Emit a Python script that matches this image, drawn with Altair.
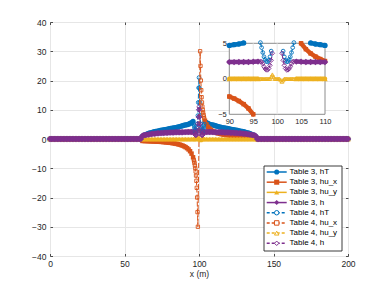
import altair as alt
import pandas as pd

# ---------------- data ----------------
VARS = ["hT", "hu_x", "hu_y", "h"]
COLORS = {"hT": "#0072BD", "hu_x": "#D95319", "hu_y": "#EDB120", "h": "#7E2F8E"}
SHAPES = {"hT": "circle", "hu_x": "square", "hu_y": "triangle-up", "h": "diamond"}

X_TICKS = [0, 50, 100, 150, 200]
Y_TICKS = [-40, -30, -20, -10, 0, 10, 20, 30, 40]
INSET_X_TICKS = [90, 95, 100, 105, 110]
INSET_Y_TICKS = [-5, 0, 5]

# Table 3 grid: x = 0..96 and x = 104..200 (m)
X3_LEFT = list(range(0, 97))
X3_RIGHT = list(range(104, 201))

# non-zero part of Table 3, left side x = 62..96 ; right side x = 104..138
HT3_LEFT_DOME = [0.9, 1.25, 1.5, 1.7, 1.9, 2.05, 2.2, 2.35, 2.5, 2.6, 2.7, 2.8, 2.9, 3.0, 3.1,
                 3.2, 3.3, 3.4, 3.5, 3.6, 3.7, 3.8, 3.9, 4.0, 4.1, 4.25, 4.4, 4.55, 4.7, 4.8,
                 4.9, 5.05, 5.3, 5.6, 6.0]
HT3_RIGHT_DOME = [6.0, 5.6, 5.3, 5.05, 4.9, 4.8, 4.7, 4.55, 4.4, 4.25, 4.1, 4.0, 3.9, 3.8, 3.7,
                  3.6, 3.5, 3.4, 3.3, 3.2, 3.1, 3.0, 2.9, 2.8, 2.7, 2.6, 2.5, 2.35, 2.2, 2.05,
                  1.9, 1.7, 1.5, 1.25, 0.9]
H3_LEFT_DOME = [1.1, 1.25, 1.35, 1.45, 1.55, 1.62, 1.7, 1.76, 1.82, 1.88, 1.93, 1.97, 2.01, 2.05,
                2.08, 2.11, 2.14, 2.17, 2.2, 2.22, 2.24, 2.26, 2.28, 2.3, 2.31, 2.32, 2.33, 2.34,
                2.35, 2.35, 2.36, 2.37, 2.38, 2.39, 2.42]
H3_RIGHT_DOME = [2.42, 2.39, 2.38, 2.37, 2.36, 2.35, 2.35, 2.34, 2.33, 2.32, 2.31, 2.3, 2.28, 2.26,
                 2.24, 2.22, 2.2, 2.17, 2.14, 2.11, 2.08, 2.05, 2.01, 1.97, 1.93, 1.88, 1.82, 1.76,
                 1.7, 1.62, 1.55, 1.45, 1.35, 1.25, 1.1]
HUX3_LEFT_DOME = [-0.66, -0.68, -0.69, -0.71, -0.74, -0.76, -0.78, -0.81, -0.83, -0.86, -0.89,
                  -0.93, -0.96, -1.0, -1.04, -1.09, -1.14, -1.19, -1.25, -1.32, -1.39, -1.47,
                  -1.56, -1.67, -1.79, -1.92, -2.08, -2.27, -2.5, -2.78, -3.13, -3.57, -4.17,
                  -5.0, -6.25]
HUX3_RIGHT_DOME = [6.25, 5.0, 4.17, 3.57, 3.13, 2.78, 2.5, 2.27, 2.08, 1.92, 1.79, 1.67, 1.56,
                   1.47, 1.39, 1.32, 1.25, 1.19, 1.14, 1.09, 1.04, 1.0, 0.96, 0.93, 0.89, 0.86,
                   0.83, 0.81, 0.78, 0.76, 0.74, 0.71, 0.69, 0.68, 0.66]
HUY3_LEFT_DOME = []
HUY3_RIGHT_DOME = []

# Table 4 grid near the centre (None = no sample there)
X4 = [96.5, 96.75, 97.0, 97.25, 97.5, 97.75, 98.0, 98.25, 98.5, 98.75, 99.0, 99.25, 99.5, 99.75,
      100.0, 100.25, 100.5, 100.75, 101.0, 101.25, 101.5, 101.75, 102.0, 102.25, 102.5, 102.75,
      103.0, 103.25, 103.5]
HT4 = [5.1, 4.4, 3.7, 3.1, 2.7, 2.45, 2.4, 2.6, 3.1, 3.9, 5.2, 8.0, 12.5, 17.5, 21.0,
       17.5, 12.5, 8.0, 5.2, 3.9, 3.1, 2.6, 2.4, 2.45, 2.7, 3.1, 3.7, 4.4, 5.1]
HUX4 = [-7.1, -7.7, -8.3, -9.1, -10.0, -11.1, -12.5, -14.3, -16.7, -20.0, -25.0, -30.0, None,
        None, None, None, None, 30.0, 25.0, 20.0, 16.7, 14.3, 12.5, 11.1, 10.0, 9.1, 8.3, 7.7, 7.1]
HUY4 = [0, 0, 0, 0, 0, 0, 0, 0, 0, 0.3, 0.6, 0.3, 0, 0, 0, 0, 0, -0.2, -0.4, -0.2,
        0, 0, 0, 0, 0, 0, 0, 0, 0]
H4 = [2.45, 2.4, 2.1, 1.7, 1.4, 1.25, 1.25, 1.45, 1.9, 2.6, 3.6, 5.2, 7.5, 10.0, 11.0,
      10.0, 7.5, 5.2, 3.6, 2.6, 1.9, 1.45, 1.25, 1.25, 1.4, 1.7, 2.1, 2.4, 2.45]

LEGEND_LABELS = ["Table 3, hT", "Table 3, hu_x", "Table 3, hu_y", "Table 3, h",
                 "Table 4, hT", "Table 4, hu_x", "Table 4, hu_y", "Table 4, h"]

# ---------------- build tables ----------------
def pad_left(dome, n):
    return [0.0] * (n - len(dome)) + list(dome)


def pad_right(dome, n):
    return list(dome) + [0.0] * (n - len(dome))


T3 = {
    "hT": (HT3_LEFT_DOME, HT3_RIGHT_DOME),
    "hu_x": (HUX3_LEFT_DOME, HUX3_RIGHT_DOME),
    "hu_y": (HUY3_LEFT_DOME, HUY3_RIGHT_DOME),
    "h": (H3_LEFT_DOME, H3_RIGHT_DOME),
}
T4 = {"hT": HT4, "hu_x": HUX4, "hu_y": HUY4, "h": H4}

rows = []
for var in VARS:
    left, right = T3[var]
    for x, v in zip(X3_LEFT, pad_left(left, len(X3_LEFT))):
        rows.append({"table": "3", "var": var, "x": x, "v": v, "side": "L"})
    for x, v in zip(X3_RIGHT, pad_right(right, len(X3_RIGHT))):
        rows.append({"table": "3", "var": var, "x": x, "v": v, "side": "R"})
    for x, v in zip(X4, T4[var]):
        if v is not None:
            rows.append({"table": "4", "var": var, "x": x, "v": v, "side": "C"})
df = pd.DataFrame(rows)

# inset subset: only points inside the inset window, lines broken where they leave it
ins = df[(df["x"] >= 90) & (df["x"] <= 110)].copy()
ins = ins.sort_values(["table", "var", "side", "x"])
ins["inr"] = ins["v"].abs() <= 5.15
ins["seg"] = ins.groupby(["table", "var", "side"])["inr"].transform(
    lambda s: (s != s.shift()).cumsum())
ins["segid"] = ins["side"] + ins["seg"].astype(str)
ins = ins[ins["inr"]].drop(columns=["inr"])

SIZE3 = {"hT": 28, "hu_x": 20, "hu_y": 30, "h": 42}
SIZE4 = {"hT": 14, "hu_x": 11, "hu_y": 14, "h": 20}
DASH = [5, 2]

TXT = "#262626"
FONT = "Liberation Sans"


def series_layers(data, detail, xscale, yscale, axes, band_width=1.0):
    layers = []
    k = 0
    for table in ["3", "4"]:
        for var in VARS:
            sub = data[(data["table"] == table) & (data["var"] == var)]
            for part in ("line", "pts"):
                xa, ya = axes[k] if k < len(axes) else (None, None)
                xenc = alt.X("x:Q", scale=xscale, axis=xa) if xa is not None else \
                    alt.X("x:Q", scale=xscale, axis=None)
                yenc = alt.Y("v:Q", scale=yscale, axis=ya) if ya is not None else \
                    alt.Y("v:Q", scale=yscale, axis=None)
                base = alt.Chart(sub).encode(x=xenc, y=yenc, detail=alt.Detail(detail + ":N"))
                if table == "3":
                    if part == "line":
                        layers.append(base.mark_line(color=COLORS[var], strokeWidth=band_width,
                                                     strokeCap="round", strokeJoin="round"))
                    else:
                        layers.append(base.mark_point(filled=True, shape=SHAPES[var],
                                                      size=SIZE3[var], color=COLORS[var],
                                                      opacity=1))
                else:
                    if part == "line":
                        layers.append(base.mark_line(color=COLORS[var], strokeWidth=1,
                                                     strokeDash=DASH))
                    else:
                        layers.append(base.mark_point(filled=False, shape=SHAPES[var],
                                                      size=SIZE4[var], color=COLORS[var],
                                                      strokeWidth=0.9, opacity=1))
                k += 1
    return layers


# ---------------- main axes ----------------
W, H = 298, 234
main_x = alt.Scale(domain=[0, 200], nice=False)
main_y = alt.Scale(domain=[-40, 40], nice=False)
main_xaxis = alt.Axis(values=X_TICKS, title="x (m)", grid=True, gridColor="#e6e6e6",
                      domain=False, ticks=False, labelFontSize=8.5, labelColor=TXT,
                      labelPadding=3, titleFontSize=8.5, titleFontWeight="normal",
                      titleColor=TXT, titlePadding=2, labelFont=FONT, titleFont=FONT,
                      orient="bottom", labelFlush=False)
main_yaxis = alt.Axis(values=Y_TICKS, title="", grid=True, gridColor="#e6e6e6",
                      domain=False, ticks=False, labelFontSize=8.5, labelColor=TXT,
                      labelPadding=4, labelFont=FONT, orient="left", labelFlush=False)


def tick_axis(values, orient):
    return alt.Axis(values=values, orient=orient, offset=-2.5, tickSize=2.5, ticks=True,
                    labels=False, domain=False, grid=False, title="", tickColor=TXT,
                    tickWidth=0.8)


main_axes = [
    (main_xaxis, main_yaxis),
    (tick_axis(X_TICKS, "bottom"), tick_axis(Y_TICKS, "left")),
    (tick_axis(X_TICKS, "top"), tick_axis(Y_TICKS, "right")),
]
main = alt.layer(*series_layers(df, "side", main_x, main_y, main_axes)).resolve_axis(
    x="independent", y="independent")

# ---------------- inset ----------------
IX0, IX1 = 179.3, 275.0
IY_TOP, IY_BOT = 21.3, 92.3
ins_x = alt.Scale(domain=[90, 110], range=[IX0, IX1], nice=False)
ins_y = alt.Scale(domain=[-5, 5], range=[IY_BOT, IY_TOP], nice=False)
ins_xaxis = alt.Axis(values=INSET_X_TICKS, title="", grid=False, domain=False, ticks=False,
                     orient="bottom", offset=-(H - IY_BOT), labelFontSize=7.5,
                     labelColor=TXT, labelPadding=3, labelFont=FONT, zindex=1,
                     labelFlush=False)
ins_yaxis = alt.Axis(values=INSET_Y_TICKS, title="", grid=False, domain=False, ticks=False,
                     orient="left", offset=-IX0, labelFontSize=7.5, labelColor=TXT,
                     labelPadding=3, labelFont=FONT, zindex=1, labelFlush=False)

box = alt.Chart(pd.DataFrame({"x0": [90], "x1": [110], "y0": [-5], "y1": [5]})).mark_rect(
    fill="white", stroke="#8c8c8c", strokeWidth=1).encode(
    x=alt.X("x0:Q", scale=ins_x, axis=ins_xaxis), x2="x1:Q",
    y=alt.Y("y0:Q", scale=ins_y, axis=ins_yaxis), y2="y1:Q")
vgrid = alt.Chart(pd.DataFrame({"g": INSET_X_TICKS[1:-1]})).mark_rule(
    color="#e6e6e6", strokeWidth=1).encode(
    x=alt.X("g:Q", scale=ins_x, axis=ins_xaxis), y=alt.datum(-5, scale=ins_y),
    y2=alt.datum(5))
hgrid = alt.Chart(pd.DataFrame({"g": [0]})).mark_rule(color="#e6e6e6", strokeWidth=1).encode(
    y=alt.Y("g:Q", scale=ins_y, axis=ins_yaxis), x=alt.datum(90, scale=ins_x), x2=alt.datum(110))
ins_axes = [(ins_xaxis, ins_yaxis)] * 16
inset = alt.layer(box, vgrid, hgrid,
                  *series_layers(ins, "segid", ins_x, ins_y, ins_axes, band_width=4.5))

# ---------------- legend ----------------
leg_df = pd.DataFrame({
    "idx": list(range(len(LEGEND_LABELS))),
    "label": LEGEND_LABELS,
    "col": [COLORS[v] for v in VARS] * 2,
    "shape": [SHAPES[v] for v in VARS] * 2,
    "table": ["3"] * 4 + ["4"] * 4,
})
LX0, LX1 = 214.0, 292.0
LY0, LY1 = 144.0, 229.0
leg_y = alt.Scale(domain=[0, 7], range=[150.0, 221.3], nice=False)
legbox = alt.Chart(pd.DataFrame({"a": [0]})).mark_rect(
    fill="white", stroke="#262626", strokeWidth=0.9).encode(
    x=alt.value(LX0), x2=alt.value(LX1), y=alt.value(LY0), y2=alt.value(LY1))
leg3 = leg_df[leg_df["table"] == "3"]
leg4 = leg_df[leg_df["table"] == "4"]
ly = alt.Y("idx:Q", scale=leg_y, axis=None)
l3_line = alt.Chart(leg3).mark_rule(strokeWidth=1.5).encode(
    y=ly, x=alt.value(216.7), x2=alt.value(236.7), color=alt.Color("col:N", scale=None))
l4_line = alt.Chart(leg4).mark_rule(strokeWidth=1.5, strokeDash=[3, 2]).encode(
    y=ly, x=alt.value(216.7), x2=alt.value(236.7), color=alt.Color("col:N", scale=None))
l3_pt = alt.Chart(leg3).mark_point(filled=True, size=26, opacity=1).encode(
    y=ly, x=alt.value(226.7), color=alt.Color("col:N", scale=None),
    shape=alt.Shape("shape:N", scale=None))
l4_pt = alt.Chart(leg4).mark_point(filled=False, size=20, strokeWidth=1, opacity=1,
                                   fill="white").encode(
    y=ly, x=alt.value(226.7), color=alt.Color("col:N", scale=None),
    shape=alt.Shape("shape:N", scale=None))
l_txt = alt.Chart(leg_df).mark_text(align="left", baseline="middle", fontSize=8,
                                    font=FONT, color="#000000").encode(
    y=ly, x=alt.value(239.5), text="label:N")
legend = alt.layer(legbox, l3_line, l4_line, l3_pt, l4_pt, l_txt)

chart = alt.layer(main, inset, legend).resolve_scale(
    x="independent", y="independent"
).properties(
    width=W, height=H,
    autosize=alt.AutoSizeParams(type="none"),
    padding={"left": 42, "top": 14, "right": 27, "bottom": 23},
).configure_view(stroke="#262626", strokeWidth=1).configure(font=FONT)

chart.save("out.html", embed_options={"renderer": "svg", "actions": False})
